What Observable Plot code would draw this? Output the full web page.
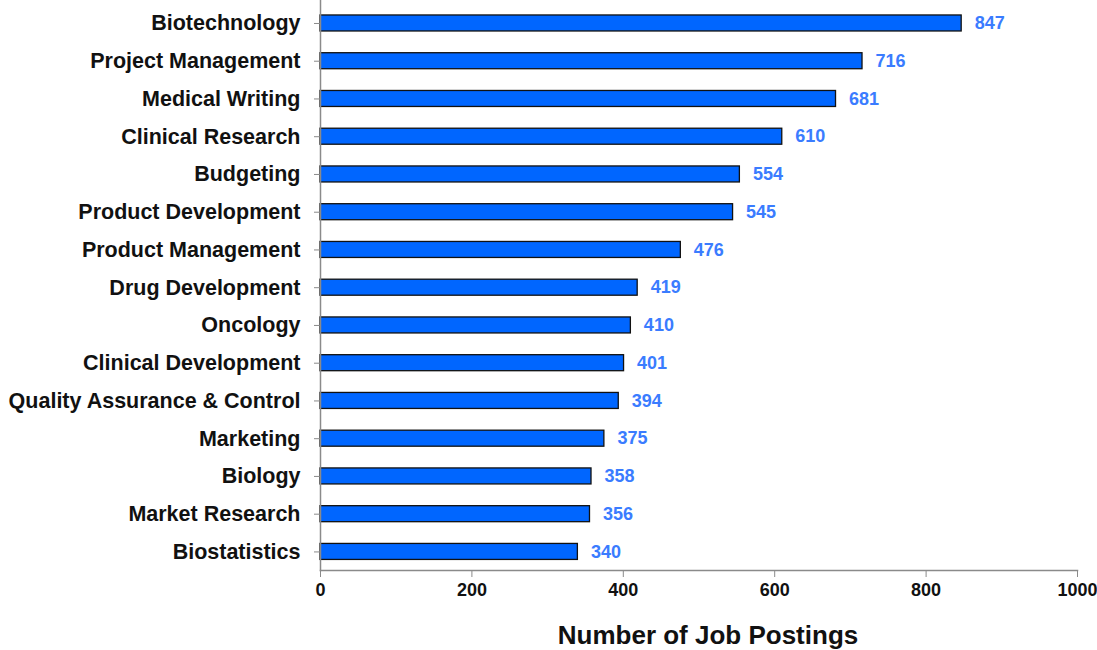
<!DOCTYPE html>
<html><head><meta charset="utf-8">
<script src="https://cdn.jsdelivr.net/npm/d3@7"></script>
<script src="https://cdn.jsdelivr.net/npm/@observablehq/plot@0.6"></script>
<style>
body{margin:0;background:#fff;}
#chart svg{font-family:"Liberation Sans",Arial,sans-serif;}
</style>
</head><body><div id="chart"></div>
<script>
const skills = ["Biotechnology","Project Management","Medical Writing","Clinical Research","Budgeting","Product Development","Product Management","Drug Development","Oncology","Clinical Development","Quality Assurance & Control","Marketing","Biology","Market Research","Biostatistics"];
const postings = [847,716,681,610,554,545,476,419,410,401,394,375,358,356,340];
const xTicks = [0,200,400,600,800,1000];
const xLabel = "Number of Job Postings";

const data = skills.map((s,i)=>({skill:s, value:postings[i]}));

const chart = Plot.plot({
  width:1097, height:650,
  marginLeft:320, marginRight:20, marginTop:0, marginBottom:80,
  style:{background:"#fff", color:"#111"},
  x:{domain:[0,1000], ticks:xTicks, tickFormat:d=>String(d)},
  y:{domain:skills, paddingInner:0.576, paddingOuter:0.28, insetTop:4.4, round:false},
  marks:[
    Plot.barX(data,{y:"skill", x:"value", fill:"#0066ff", stroke:"#111", strokeWidth:1.3}),
    Plot.text(data,{y:"skill", x:"value", text:d=>String(d.value), dx:13, textAnchor:"start", fill:"#3a7cff", fontSize:18, fontWeight:"bold"}),
    Plot.frame({anchor:"left", stroke:"#8a8a8a", strokeWidth:1.5}),
    Plot.frame({anchor:"bottom", stroke:"#8a8a8a", strokeWidth:1.5}),
    Plot.axisY({tickSize:6, tickPadding:14, fontSize:21.5, fontWeight:"bold", stroke:"#8a8a8a", label:null, fill:"#111"}),
    Plot.axisX({ticks:xTicks, tickSize:7, tickPadding:6, fontSize:18, fontWeight:"bold", stroke:"#8a8a8a", label:null, fill:"#111", tickFormat:d=>String(d)}),
    Plot.text([xLabel],{text:d=>d, frameAnchor:"bottom", dx:9, dy:65, lineAnchor:"middle", fontSize:26, fontWeight:"bold", fill:"#111"})
  ]
});
document.getElementById("chart").appendChild(chart);
</script>
</body></html>
